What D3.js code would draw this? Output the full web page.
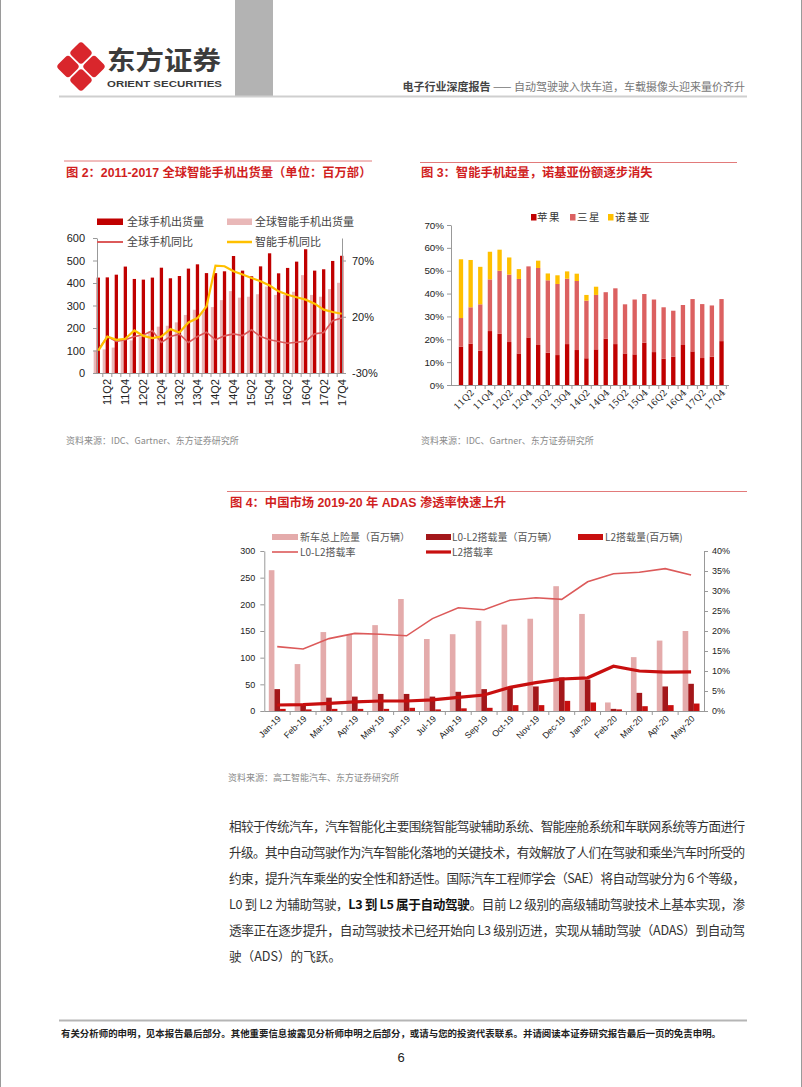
<!DOCTYPE html>
<html><head><meta charset="utf-8">
<script src="https://cdn.jsdelivr.net/npm/d3@7"></script>
<style>body{margin:0;background:#fff} svg{display:block}</style>
</head><body>
<svg id="page" width="802" height="1087"></svg>
<script>
// ---------------- DATA ----------------
const quarters = ["11Q1","11Q2","11Q3","11Q4","12Q1","12Q2","12Q3","12Q4","13Q1","13Q2","13Q3","13Q4","14Q1","14Q2","14Q3","14Q4","15Q1","15Q2","15Q3","15Q4","16Q1","16Q2","16Q3","16Q4","17Q1","17Q2","17Q3","17Q4"];
// Figure 2 (millions of units, YoY %)
const phoneShip = [424,425,437,473,418,415,424,468,421,431,464,483,444,444,452,520,455,430,474,532,443,467,495,550,455,461,498,521];
const smartShip = [100,105,113,150,145,161,185,206,210,225,258,281,273,293,324,364,335,339,350,384,347,347,361,435,347,339,373,401];
const phoneYoY = [-9.5,2.4,-2.0,-0.5,2.4,3.9,7.5,-2.9,2.4,4.5,-2.9,2.4,6.3,-0.5,3.0,4.8,3.3,8.4,2.4,-0.5,-2.0,-3.5,-2.6,-1.7,4.8,6.0,16.4,18.8];
const smartYoY = [-10.1,2.4,-0.5,0.4,7.8,3.0,1.0,2.4,9.0,6.0,14.9,18.8,29.2,65.5,64.9,60.5,57.5,54.5,51.5,47.7,42.6,39.6,37.3,35.2,31.6,26.3,24.2,22.7];
const fig2LeftTicks = [0,100,200,300,400,500,600];
const fig2RightTicks = [-30,20,70];
const fig2Legend = ["全球手机出货量","全球智能手机出货量","全球手机同比","智能手机同比"];

// Figure 3 (market share %)
const appleShare   = [16.8,18.1,15.0,23.6,22.4,18.8,13.8,20.8,17.5,14.1,13.1,17.9,15.3,11.7,15.6,20.3,17.9,13.8,13.4,18.5,14.4,11.5,12.4,17.5,14.7,11.8,12.4,19.2];
const samsungShare = [12.5,15.9,20.3,22.6,27.6,29.5,32.6,31.1,33.7,31.7,31.1,28.6,30.2,25.2,23.8,20.3,24.4,21.5,24.0,21.3,23.0,22.5,20.1,17.5,22.9,23.6,22.4,18.4];
const nokiaShare   = [25.7,20.7,16.4,12.1,9.2,7.5,4.3,0,3.2,3.0,3.8,3.2,3.2,2.5,3.6,0,0,0,0,0,0,0,0,0,0,0,0,0];
const fig3Ticks = [0,10,20,30,40,50,60,70];
const fig3Legend = ["苹果","三星","诺基亚"];

// Figure 4
const months = ["Jan-19","Feb-19","Mar-19","Apr-19","May-19","Jun-19","Jul-19","Aug-19","Sep-19","Oct-19","Nov-19","Dec-19","Jan-20","Feb-20","Mar-20","Apr-20","May-20"];
const newCars  = [264,88,148,143,161,210,135,144,169,162,173,234,182,16,101,132,150];
const l0l2Vol  = [41,12,25,27,32,32,27,36,41,45,46,63,59,4,34,46,51];
const l2Vol    = [4,3,4,4,4,6,3,5,6,11,11,19,16,3,9,11,14];
const l0l2Rate = [16.1,15.5,18.1,19.4,19.2,18.8,23.1,25.8,25.3,27.7,28.3,27.9,32.3,34.3,34.7,35.6,34.0];
const l2Rate   = [1.5,1.6,1.9,2.3,2.5,2.5,2.8,3.4,4.0,5.9,7.1,8.0,8.3,11.2,10.0,9.7,9.8];
const fig4LeftTicks = [0,50,100,150,200,250,300];
const fig4RightTicks = [0,5,10,15,20,25,30,35,40];
const fig4Legend = ["新车总上险量（百万辆）","L0-L2搭载量（百万辆）","L2搭载量(百万辆)","L0-L2搭载率","L2搭载率"];

// ---------------- PAGE ----------------
const CJK = "'Noto Sans CJK SC', sans-serif";
const LAT = "'Liberation Sans', Arial, 'Noto Sans CJK SC', sans-serif";
const svg = d3.select("#page");
svg.append("rect").attr("width",802).attr("height",1087).attr("fill","#fff");
svg.append("rect").attr("x",0.5).attr("y",-2).attr("width",801).attr("height",1091).attr("fill","none").attr("stroke","#9a9a9a");

function txt(g, x, y, s, o={}) {
  const t = g.append("text").attr("x",x).attr("y",y).text(s)
    .attr("font-family", o.ff || CJK).attr("font-size", o.fs || 11)
    .attr("fill", o.fill || "#333");
  if (o.fw) t.attr("font-weight", o.fw);
  if (o.anchor) t.attr("text-anchor", o.anchor);
  if (o.tl) t.attr("textLength", o.tl).attr("lengthAdjust","spacingAndGlyphs");
  if (o.ls) t.attr("letter-spacing", o.ls);
  return t;
}

// header
svg.append("rect").attr("x",235).attr("y",0).attr("width",38).attr("height",96).attr("fill","#b3b3b3");
svg.append("line").attr("x1",59).attr("x2",747).attr("y1",96.5).attr("y2",96.5).attr("stroke","#cfcfcf").attr("stroke-width",2);
const logo = svg.append("g");
[[81,53],[68,66.5],[94,66.5],[81,80]].forEach(([cx,cy])=>{
  logo.append("rect").attr("x",cx-8.5).attr("y",cy-8.5).attr("width",17).attr("height",17).attr("rx",3.5)
    .attr("fill","#d9262c").attr("transform",`rotate(45 ${cx} ${cy})`);
});
txt(svg,107,70,"东方证券",{fs:26,fw:"bold",fill:"#3b3b3b",tl:114});
txt(svg,107,87,"ORIENT SECURITIES",{ff:LAT,fs:9.5,fw:"bold",fill:"#3b3b3b",tl:115});
const ht = svg.append("text").attr("x",745).attr("y",91).attr("text-anchor","end").attr("font-family",CJK).attr("font-size",11);
ht.append("tspan").attr("font-weight","bold").attr("fill","#444").text("电子行业深度报告 ");
ht.append("tspan").attr("fill","#777").text("—— 自动驾驶驶入快车道，车载摄像头迎来量价齐升");

const RED_T = "#d11f1f";

// ---------------- FIGURE 2 ----------------
{
  const g = svg.append("g");
  g.append("line").attr("x1",64).attr("x2",372).attr("y1",161).attr("y2",161).attr("stroke","#e27a7a").attr("stroke-width",1);
  txt(g,66,177,"图 2：2011-2017 全球智能手机出货量（单位：百万部）",{ff:LAT,fs:12.3,fw:"bold",fill:RED_T});
  const yL = d3.scaleLinear().domain([0,600]).range([373,238]);
  const yR = d3.scaleLinear().domain([-30,90]).range([373,238]);
  const xD = d3.scalePoint().domain(quarters).range([98.3,341.7]);
  const step = xD.step();
  const bw = 3.3;
  // light bars (smartphones) sit just left of dark bars
  g.selectAll(".lb").data(smartShip).join("rect")
    .attr("x",(d,i)=>xD(quarters[i])-3-bw/2).attr("width",bw)
    .attr("y",d=>yL(d)).attr("height",d=>yL(0)-yL(d)).attr("fill","#e9b8b8");
  g.selectAll(".db").data(phoneShip).join("rect")
    .attr("x",(d,i)=>xD(quarters[i])-bw/2).attr("width",bw)
    .attr("y",d=>yL(d)).attr("height",d=>yL(0)-yL(d)).attr("fill","#c00000");
  // axes
  const axL = g.append("g").attr("transform","translate(97,0)")
    .call(d3.axisLeft(yL).tickValues(fig2LeftTicks).tickSize(4).tickSizeOuter(0).tickPadding(8));
  const axR = g.append("g").attr("transform","translate(342,0)")
    .call(d3.axisRight(yR).tickValues(fig2RightTicks).tickFormat(d=>d+"%").tickSize(4).tickSizeOuter(0).tickPadding(6));
  [axL,axR].forEach(a=>{a.selectAll("path,line").attr("stroke","#999");
    a.selectAll("text").attr("font-family",LAT).attr("font-size",11).attr("fill","#222");});
  g.append("line").attr("x1",97).attr("x2",342).attr("y1",373.5).attr("y2",373.5).attr("stroke","#999");
  quarters.forEach((q,i)=>{ const xx = xD(q)+step/2; if(i<quarters.length-1)
    g.append("line").attr("x1",xx).attr("x2",xx).attr("y1",373.5).attr("y2",377).attr("stroke","#999");});
  quarters.forEach((q,i)=>{ if(i%2===1)
    g.append("text").attr("transform",`translate(${xD(q)},379) rotate(-90)`).attr("text-anchor","end")
      .attr("dy","0.35em").attr("font-family",LAT).attr("font-size",11).attr("fill","#222").text(q);});
  // lines
  const ln = arr => d3.line().x((d,i)=>xD(quarters[i])).y(d=>yR(d))(arr);
  g.append("path").attr("d",ln(phoneYoY)).attr("fill","none").attr("stroke","#dc5a5a").attr("stroke-width",1.6);
  g.append("path").attr("d",ln(smartYoY)).attr("fill","none").attr("stroke","#ffc000").attr("stroke-width",2.2);
  // legend
  g.append("rect").attr("x",97).attr("y",218.5).attr("width",26).attr("height",6.5).attr("fill","#c00000");
  g.append("rect").attr("x",227).attr("y",218.5).attr("width",25).attr("height",6.5).attr("fill","#e9b8b8");
  g.append("line").attr("x1",97).attr("x2",123).attr("y1",242).attr("y2",242).attr("stroke","#dc5a5a").attr("stroke-width",2);
  g.append("line").attr("x1",227).attr("x2",252).attr("y1",242).attr("y2",242).attr("stroke","#ffc000").attr("stroke-width",2.5);
  txt(g,127,226,fig2Legend[0],{fs:11,fill:"#444"});
  txt(g,255,226,fig2Legend[1],{fs:11,fill:"#444"});
  txt(g,127,246,fig2Legend[2],{fs:11,fill:"#444"});
  txt(g,255,246,fig2Legend[3],{fs:11,fill:"#444"});
  txt(g,66,444,"资料来源：IDC、Gartner、东方证券研究所",{fs:9,fill:"#8a8a8a"});
}

// ---------------- FIGURE 3 ----------------
{
  const g = svg.append("g");
  g.append("line").attr("x1",420).attr("x2",737).attr("y1",162.5).attr("y2",162.5).attr("stroke","#e27a7a").attr("stroke-width",1);
  txt(g,421,177,"图 3：智能手机起量，诺基亚份额逐步消失",{ff:LAT,fs:12.3,fw:"bold",fill:RED_T});
  const y = d3.scaleLinear().domain([0,70]).range([385,225]);
  const x = d3.scaleBand().domain(quarters).range([453.5,729]).padding(0.55);
  const rows = quarters.map((q,i)=>({q, apple:appleShare[i], samsung:samsungShare[i], nokia:nokiaShare[i]}));
  const stack = d3.stack().keys(["apple","samsung","nokia"])(rows);
  const colors = {apple:"#c00000", samsung:"#dc6161", nokia:"#ffc000"};
  stack.forEach(s=>{
    g.selectAll(".s"+s.key).data(s).join("rect")
      .attr("x",d=>x(d.data.q)).attr("width",x.bandwidth())
      .attr("y",d=>y(d[1])).attr("height",d=>Math.max(0,y(d[0])-y(d[1]))).attr("fill",colors[s.key]);
  });
  const ax = g.append("g").attr("transform","translate(451,0)")
    .call(d3.axisLeft(y).tickValues(fig3Ticks).tickFormat(d=>d+"%").tickSize(4).tickSizeOuter(0).tickPadding(3));
  ax.selectAll("path,line").attr("stroke","#999");
  ax.selectAll("text").attr("font-family",LAT).attr("font-size",9.8).attr("fill","#222");
  g.append("line").attr("x1",451).attr("x2",729).attr("y1",385.5).attr("y2",385.5).attr("stroke","#999");
  quarters.forEach((q,i)=>{
    const xx = x(q)+x.bandwidth()/2+x.step()/2;
    g.append("line").attr("x1",xx).attr("x2",xx).attr("y1",385.5).attr("y2",389).attr("stroke","#999");});
  quarters.forEach((q,i)=>{ if(i%2===1)
    g.append("text").attr("transform",`translate(${x(q)+x.bandwidth()/2+2},391) rotate(-45)`).attr("text-anchor","end")
      .attr("dy","0.35em").attr("font-family","'DejaVu Serif', serif").attr("font-size",9).attr("fill","#222").text(q);});
  // legend
  const lx = [531,570,608], tx = [537,577,615];
  ["apple","samsung","nokia"].forEach((k,i)=>{
    g.append("rect").attr("x",lx[i]).attr("y",214).attr("width",5.5).attr("height",6.5).attr("fill",colors[k]);
    txt(g,tx[i],221,fig3Legend[i],{fs:10.5,fill:"#333",ls:1.5});
  });
  txt(g,421,444,"资料来源：IDC、Gartner、东方证券研究所",{fs:9,fill:"#8a8a8a"});
}

// ---------------- FIGURE 4 ----------------
{
  const g = svg.append("g");
  g.append("line").attr("x1",227).attr("x2",747).attr("y1",491.5).attr("y2",491.5).attr("stroke","#e27a7a").attr("stroke-width",1);
  txt(g,230,507,"图 4：中国市场 2019-20 年 ADAS 渗透率快速上升",{ff:LAT,fs:12.3,fw:"bold",fill:RED_T});
  const yL = d3.scaleLinear().domain([0,300]).range([711,551]);
  const yR = d3.scaleLinear().domain([0,40]).range([711,551]);
  const x = d3.scaleBand().domain(months).range([264.3,704]);
  const series = ["a","b","c"];
  const xs = d3.scaleBand().domain(series).range([0,x.bandwidth()]).paddingInner(0).paddingOuter(0.8);
  const cols = {a:"#e4abab", b:"#a3171a", c:"#c80f0f"};
  const vals = {a:newCars, b:l0l2Vol, c:l2Vol};
  series.forEach(s=>{
    g.selectAll(".b"+s).data(vals[s]).join("rect")
      .attr("x",(d,i)=>x(months[i])+xs(s)).attr("width",xs.bandwidth())
      .attr("y",d=>yL(d)).attr("height",d=>yL(0)-yL(d)).attr("fill",cols[s]);
  });
  const axL = g.append("g").attr("transform","translate(264.3,0)")
    .call(d3.axisLeft(yL).tickValues(fig4LeftTicks).tickSize(4).tickSizeOuter(0).tickPadding(5));
  const axR = g.append("g").attr("transform","translate(704,0)")
    .call(d3.axisRight(yR).tickValues(fig4RightTicks).tickFormat(d=>d+"%").tickSize(4).tickSizeOuter(0).tickPadding(4));
  [axL,axR].forEach(a=>{a.selectAll("path,line").attr("stroke","#999");
    a.selectAll("text").attr("font-family",LAT).attr("font-size",9).attr("fill","#222");});
  g.append("line").attr("x1",264.3).attr("x2",704).attr("y1",711.5).attr("y2",711.5).attr("stroke","#999");
  months.forEach((m,i)=>{ const xx = x(m)+x.bandwidth();
    if(i<months.length-1) g.append("line").attr("x1",xx).attr("x2",xx).attr("y1",711.5).attr("y2",715).attr("stroke","#999");});
  months.forEach(m=>{
    g.append("text").attr("transform",`translate(${x(m)+x.bandwidth()/2+2},717) rotate(-45)`).attr("text-anchor","end")
      .attr("dy","0.35em").attr("font-family",LAT).attr("font-size",8.8).attr("fill","#222").text(m);});
  const ln = arr => d3.line().x((d,i)=>x(months[i])+x.bandwidth()/2).y(d=>yR(d))(arr);
  g.append("path").attr("d",ln(l0l2Rate)).attr("fill","none").attr("stroke","#dc5a5a").attr("stroke-width",1.6);
  g.append("path").attr("d",ln(l2Rate)).attr("fill","none").attr("stroke","#c80f0f").attr("stroke-width",3.2);
  // legend
  g.append("rect").attr("x",272).attr("y",534).attr("width",26).attr("height",6).attr("fill",cols.a);
  g.append("rect").attr("x",426).attr("y",534).attr("width",25).attr("height",6).attr("fill",cols.b);
  g.append("rect").attr("x",578).attr("y",534).attr("width",25).attr("height",6).attr("fill",cols.c);
  g.append("line").attr("x1",272).attr("x2",298).attr("y1",552).attr("y2",552).attr("stroke","#dc5a5a").attr("stroke-width",1.6);
  g.append("line").attr("x1",426).attr("x2",451).attr("y1",552).attr("y2",552).attr("stroke","#c80f0f").attr("stroke-width",3.2);
  txt(g,300,541,fig4Legend[0],{fs:10,fill:"#555"});
  txt(g,452,541,fig4Legend[1],{fs:10,fill:"#555"});
  txt(g,605,541,fig4Legend[2],{fs:10,fill:"#555"});
  txt(g,300,556,fig4Legend[3],{fs:10,fill:"#555"});
  txt(g,452,556,fig4Legend[4],{fs:10,fill:"#555"});
  txt(g,228,781,"资料来源：高工智能汽车、东方证券研究所",{fs:9,fill:"#8a8a8a"});
}

// ---------------- BODY TEXT ----------------
{
  const lines = [
    [["相较于传统汽车，汽车智能化主要围绕智能驾驶辅助系统、智能座舱系统和车联网系统等方面进行",0]],
    [["升级。其中自动驾驶作为汽车智能化落地的关键技术，有效解放了人们在驾驶和乘坐汽车时所受的",0]],
    [["约束，提升汽车乘坐的安全性和舒适性。国际汽车工程师学会（SAE）将自动驾驶分为 6 个等级，",0]],
    [["L0 到 L2 为辅助驾驶，",0],["L3 到 L5 属于自动驾驶",1],["。目前 L2 级别的高级辅助驾驶技术上基本实现，渗",0]],
    [["透率正在逐步提升，自动驾驶技术已经开始向 L3 级别迈进，实现从辅助驾驶（ADAS）到自动驾",0]],
    [["驶（ADS）的飞跃。",0]]
  ];
  lines.forEach((parts,i)=>{
    const t = svg.append("text").attr("x",229).attr("y",831+25.9*i).attr("font-family",CJK)
      .attr("font-size",12.6).attr("fill","#333");
    if (i<lines.length-1) t.attr("textLength",516).attr("lengthAdjust","spacing");
    parts.forEach(([s,b])=>{ const ts=t.append("tspan").text(s); if(b) ts.attr("font-weight","bold").attr("fill","#111"); });
  });
}

// ---------------- FOOTER ----------------
svg.append("line").attr("x1",59).attr("x2",747).attr("y1",1020.5).attr("y2",1020.5).attr("stroke","#b5b5b5").attr("stroke-width",2);
txt(svg,61,1037,"有关分析师的申明，见本报告最后部分。其他重要信息披露见分析师申明之后部分，或请与您的投资代表联系。并请阅读本证券研究报告最后一页的免责申明。",{fs:9.6,fw:"bold",fill:"#222",tl:660});
txt(svg,401,1062,"6",{ff:LAT,fs:13,fill:"#222",anchor:"middle"});
</script>
</body></html>
